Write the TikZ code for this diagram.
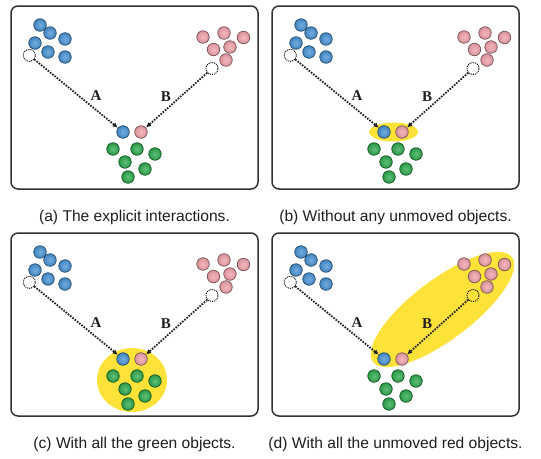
\documentclass[tikz,border=0pt]{standalone}
\usepackage{fontspec}
\setmainfont{Liberation Sans}
\newfontfamily\labelfont{Liberation Serif}
\usetikzlibrary{arrows.meta}
\definecolor{blueobj}{RGB}{70,145,210}
\definecolor{pinkobj}{RGB}{238,160,168}
\definecolor{greenobj}{RGB}{44,168,76}
\definecolor{hlyellow}{RGB}{253,226,58}
\definecolor{boxgray}{RGB}{50,50,50}
\definecolor{txt}{RGB}{30,30,30}
\tikzset{
  obj/.style={circle, minimum size=12.5pt, inner sep=0pt, draw=#1!50!black, line width=0.7pt,
    shading=radial, inner color=#1!75!white, outer color=#1!92!black},
  ghost/.style={circle, minimum size=12pt, inner sep=0pt, draw=black, line width=0.9pt, dash pattern=on 1pt off 1pt},
  movearrow/.style={draw=txt, line width=1.8pt, dash pattern=on 1.6pt off 1.3pt, -{Latex[length=5pt,width=5pt]}, shorten >=0.2pt},
  panelbox/.style={draw=boxgray, line width=1.5pt, rounded corners=7pt},
  lab/.style={text=txt, inner sep=0pt, font=\labelfont\bfseries\fontsize{15}{18}\selectfont},
  captxt/.style={text=txt, inner sep=0pt, anchor=base, font=\fontsize{15.6}{18}\selectfont},
  hl/.style={fill=hlyellow}
}
\newcommand\panelcontent{%
  \draw[panelbox] (11,6) rectangle (258,189);
  \foreach \x/\y [count=\i] in {40/25,50/33,65/39,35/43,48/52,65/57}
    \node[obj=blueobj] (b\i) at (\x,\y) {};
  \foreach \x/\y [count=\i] in {203/37,224/33,243.5/37.5,213.5/49.5,230/47,226/60}
    \node[obj=pinkobj] (r\i) at (\x,\y) {};
  \foreach \x/\y [count=\i] in {113/149,137/149,155/154,125/162,145/169,128/177}
    \node[obj=greenobj] (g\i) at (\x,\y) {};
  \node[ghost] (bold) at (29.3,55.3) {};
  \node[ghost] (rold) at (212,68.5) {};
  \node[obj=blueobj] (bnew) at (123,132) {};
  \node[obj=pinkobj] (rnew) at (141,132) {};
  \draw[movearrow] (bold) -- (bnew);
  \draw[movearrow] (rold) -- (rnew);
  \node[lab] (la) at (96,96) {A};
  \node[lab] (lb) at (166,97) {B};
}
\begin{document}
\begin{tikzpicture}[x=1pt,y=-1pt]
\fill[white] (0,0) rectangle (541,458);
\useasboundingbox (0,0) rectangle (541,458);
% highlights
\fill[hl] (393.5,132) ellipse [x radius=24.5, y radius=9.5];
\fill[hl] (132,380) ellipse [x radius=35, y radius=32];
\fill[hl, rotate around={37:(442.5,309.5)}] (442.5,309.5) ellipse [x radius=87, y radius=30];
% panels
\begin{scope}[name prefix=pa-]
  \panelcontent
\end{scope}
\begin{scope}[shift={(261,0)}, name prefix=pb-]
  \panelcontent
\end{scope}
\begin{scope}[shift={(0,227)}, name prefix=pc-]
  \panelcontent
\end{scope}
\begin{scope}[shift={(261,227)}, name prefix=pd-]
  \panelcontent
\end{scope}
% captions
\node[captxt] (capa) at (134.5,221) {(a) The explicit interactions.};
\node[captxt] (capb) at (395.5,221) {(b) Without any unmoved objects.};
\node[captxt] (capc) at (134.5,448) {(c) With all the green objects.};
\node[captxt] (capd) at (395.5,448) {(d) With all the unmoved red objects.};
\end{tikzpicture}
\end{document}
